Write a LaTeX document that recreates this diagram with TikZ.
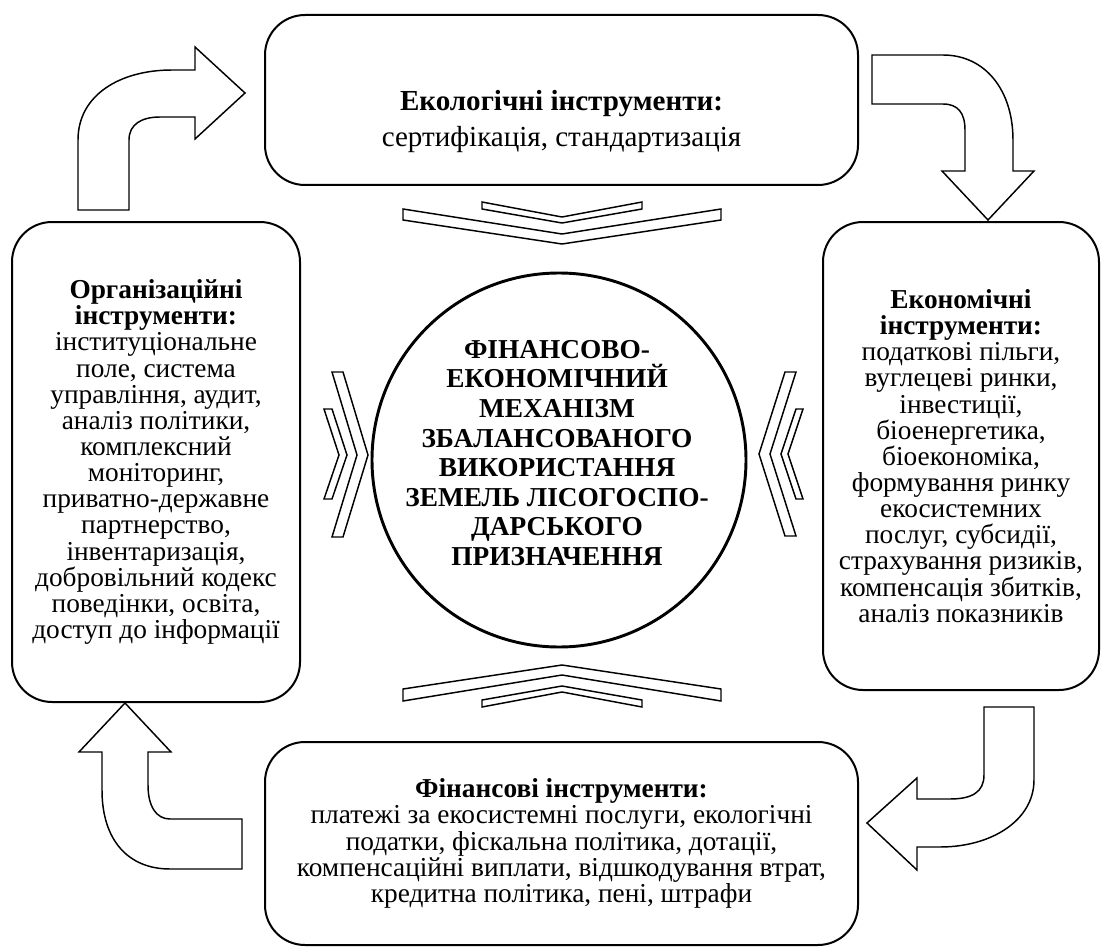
\documentclass[tikz,border=0pt]{standalone}
\usepackage{fontspec}
\setmainfont{Liberation Serif}
\usetikzlibrary{positioning}
\tikzstyle{box} = [rectangle, draw=black, line width=1.5pt, rounded corners=30pt, text centered, align=center, font=\fontsize{20.5}{19.6}\selectfont]
\tikzstyle{boxtext} = [align=center, inner sep=0pt]
\tikzstyle{core} = [circle, draw=black, line width=2.2pt, inner sep=0pt]
\tikzstyle{coretext} = [align=center, inner sep=0pt, font=\fontsize{20.5}{22.2}\selectfont\bfseries]
\tikzstyle{chevron} = [draw=black, line width=1.1pt, line join=miter]
\tikzstyle{bent} = [draw=black, line width=1.1pt, line join=miter]

\begin{document}
\begin{tikzpicture}[x=0.75pt, y=-0.75pt]
  \useasboundingbox (0,0) rectangle (1101,949);
  % Центр
  \node (core) [core, minimum size=280.5pt] at (559,460) {};
  \node (coretext) [coretext] at (557,453) {ФІНАНСОВО-\\ЕКОНОМІЧНИЙ\\МЕХАНІЗМ\\ЗБАЛАНСОВАНОГО\\ВИКОРИСТАННЯ\\ЗЕМЕЛЬ ЛІСОГОСПО-\\ДАРСЬКОГО\\ПРИЗНАЧЕННЯ};
  % Інструменти
  \node (eco) [box, minimum width=444.75pt, minimum height=127.5pt] at (561.5,100) {};
  \node (ecotext) [boxtext, font=\fontsize{21.8}{21}\selectfont] at (561.5,122) {\textbf{Екологічні інструменти:}\\[6pt]сертифікація, стандартизація};
  \node (econ) [box, minimum width=207pt, minimum height=351pt] at (961,456) {\textbf{Економічні}\\\textbf{інструменти:}\\податкові пільги,\\вуглецеві ринки,\\інвестиції,\\біоенергетика,\\біоекономіка,\\формування ринку\\екосистемних\\послуг, субсидії,\\страхування ризиків,\\компенсація збитків,\\аналіз показників};
  \node (fin) [box, minimum width=444.75pt, minimum height=152.25pt] at (561.5,843.5) {\textbf{Фінансові інструменти:}\\платежі за екосистемні послуги, екологічні\\податки, фіскальна політика, дотації,\\компенсаційні виплати, відшкодування втрат,\\кредитна політика, пені, штрафи};
  \node (org) [box, minimum width=216pt, minimum height=360pt] at (156,462) {\textbf{Організаційні}\\\textbf{інструменти:}\\інституціональне\\поле, система\\управління, аудит,\\аналіз політики,\\комплексний\\моніторинг,\\приватно-державне\\партнерство,\\інвентаризація,\\добровільний кодекс\\поведінки, освіта,\\доступ до інформації};
  % Шеврони
  \draw [chevron] (403,209) -- (562,234) -- (721,209) -- (721,220) -- (562,244) -- (403,220) -- cycle;
  \draw [chevron] (482,202) -- (562,217) -- (642,202) -- (642,209) -- (562,223) -- (482,209) -- cycle;
  \draw [chevron] (403,689) -- (562,665) -- (721,689) -- (721,701) -- (562,675) -- (403,701) -- cycle;
  \draw [chevron] (482,700) -- (562,686) -- (642,700) -- (642,707) -- (562,692) -- (482,707) -- cycle;
  \draw [chevron] (332,372) -- (343,372) -- (368,455) -- (343,537) -- (332,537) -- (357,455) -- cycle;
  \draw [chevron] (324,409) -- (332,409) -- (347,455) -- (332,499) -- (324,499) -- (339,455) -- cycle;
  \draw [chevron] (785,372) -- (796,372) -- (770,454) -- (796,536) -- (785,536) -- (759,454) -- cycle;
  \draw [chevron] (796,409) -- (803,409) -- (788,454) -- (803,499) -- (796,499) -- (781,454) -- cycle;
  % Вигнуті стрілки
  \draw [bent] (78,210) -- (78,140) .. controls (78,95) and (120,70) .. (172,70) -- (195,70) -- (195,47) -- (245,93) -- (195,139) -- (195,117) -- (160,117) .. controls (142,117) and (129,124) .. (129,140) -- (129,210) -- cycle;
  \draw [bent] (872,55) -- (943,55) .. controls (985,55) and (1013,90) .. (1013,140) -- (1013,171) -- (1034,171) -- (988,220) -- (942,171) -- (965,171) -- (965,130) .. controls (965,113) and (958,104) .. (943,104) -- (872,104) -- cycle;
  \draw [bent] (984,707) -- (1034,707) -- (1034,780) .. controls (1034,820) and (992,847) .. (940,847) -- (917,847) -- (917,870) -- (867,823) -- (917,778) -- (917,799) -- (950,799) .. controls (972,799) and (984,792) .. (984,775) -- cycle;
  \draw [bent] (242,819) -- (242,869) -- (170,869) .. controls (128,869) and (102,840) .. (102,790) -- (102,752) -- (79,752) -- (125,703) -- (171,752) -- (148,752) -- (148,785) .. controls (148,806) and (156,819) .. (170,819) -- cycle;
\end{tikzpicture}
\end{document}
